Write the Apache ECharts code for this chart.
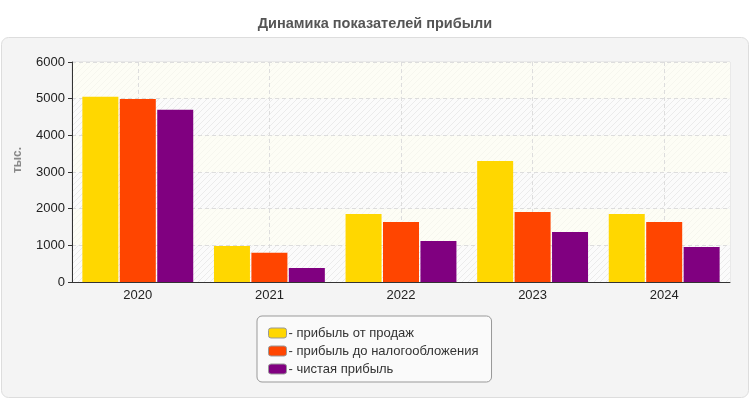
<!DOCTYPE html>
<html>
<head>
<meta charset="utf-8">
<script src="https://cdn.jsdelivr.net/npm/echarts@6/dist/echarts.min.js"></script>
<style>
  html, body { margin: 0; padding: 0; background: #fff; }
  #main { width: 750px; height: 400px; }
</style>
</head>
<body>
<div id="main"></div>
<script>
var years = ['2020', '2021', '2022', '2023', '2024'];
var salesProfit = [5050, 980, 1855, 3300, 1855];
var preTaxProfit = [4990, 800, 1636, 1910, 1636];
var netProfit = [4700, 380, 1118, 1364, 955];
var seriesNames = ['прибыль от продаж', 'прибыль до налогообложения', 'чистая прибыль'];
var yTicks = [0, 1000, 2000, 3000, 4000, 5000, 6000];

// striped fill for the plot bands
function makeStripes(bg, line) {
  var c = document.createElement('canvas');
  c.width = 6; c.height = 6;
  var ctx = c.getContext('2d');
  ctx.fillStyle = bg;
  ctx.fillRect(0, 0, 6, 6);
  ctx.strokeStyle = line;
  ctx.lineWidth = 1;
  ctx.beginPath();
  ctx.moveTo(0, 6); ctx.lineTo(6, 0);
  ctx.moveTo(-3, 3); ctx.lineTo(3, -3);
  ctx.moveTo(3, 9); ctx.lineTo(9, 3);
  ctx.stroke();
  return { image: c, repeat: 'repeat' };
}
var hatched = makeStripes('#fbfbfb', '#ebebeb');
var cream = makeStripes('#fdfdf5', '#f6f6ee');

var chart = echarts.init(document.getElementById('main'));

chart.setOption({
  animation: false,
  textStyle: { fontFamily: 'Arial, "Liberation Sans", sans-serif' },
  title: {
    text: 'Динамика показателей прибыли',
    left: 'center',
    top: 11,
    textStyle: { fontSize: 14.5, fontWeight: 'bold', color: '#555' }
  },
  graphic: [{
    type: 'rect',
    z: -10,
    shape: { x: 1.5, y: 37.5, width: 747, height: 360, r: 7 },
    style: { fill: '#f4f4f4', stroke: '#dddddd', lineWidth: 1 }
  }],
  legend: {
    orient: 'vertical',
    left: 257,
    top: 316,
    padding: [10, 13, 6, 11],
    itemGap: 4,
    itemWidth: 18,
    itemHeight: 10,
    backgroundColor: '#fafafa',
    borderColor: '#999',
    borderWidth: 1,
    borderRadius: 5,
    icon: 'roundRect',
    itemStyle: { borderColor: '#999', borderWidth: 1 },
    formatter: function (name) { return '- ' + name; },
    textStyle: { fontSize: 13, lineHeight: 14, color: '#333', padding: [0, 0, 0, -3] },
    data: seriesNames
  },
  grid: {
    left: 72,
    right: 20,
    top: 62,
    bottom: 118,
    show: true,
    borderColor: '#dddddd',
    borderWidth: 1,
    backgroundColor: 'transparent'
  },
  xAxis: {
    type: 'category',
    data: years,
    axisLine: { lineStyle: { color: '#333', width: 1 } },
    axisTick: { alignWithLabel: true, length: 4, lineStyle: { color: '#333' } },
    axisLabel: { fontSize: 13, color: '#222', margin: 7 },
    splitLine: { show: true, alignWithLabel: true, lineStyle: { color: '#dddddd', type: [4, 3] } }
  },
  yAxis: {
    type: 'value',
    min: yTicks[0],
    max: yTicks[yTicks.length - 1],
    interval: 1000,
    name: 'тыс.',
    nameLocation: 'middle',
    nameGap: 48,
    nameRotate: 90,
    nameTextStyle: { fontSize: 12, fontWeight: 'bold', color: '#888', padding: [0, 0, 0, 24] },
    axisLine: { show: true, lineStyle: { color: '#333', width: 1 } },
    axisTick: { show: true, length: 4, lineStyle: { color: '#333' } },
    axisLabel: { fontSize: 13, color: '#222', margin: 7, formatter: function (v) { return String(v); } },
    splitLine: { show: true, lineStyle: { color: '#dddddd', type: [4, 3] } },
    splitArea: { show: true, areaStyle: { color: [hatched, cream] } }
  },
  series: [{
    name: seriesNames[0],
    type: 'bar',
    data: salesProfit,
    barWidth: 36,
    barGap: '4%',
    itemStyle: { color: '#FFD700' }
  }, {
    name: seriesNames[1],
    type: 'bar',
    data: preTaxProfit,
    barWidth: 36,
    barGap: '4%',
    itemStyle: { color: '#FF4500' }
  }, {
    name: seriesNames[2],
    type: 'bar',
    data: netProfit,
    barWidth: 36,
    barGap: '4%',
    itemStyle: { color: '#800080' }
  }]
});
</script>
</body>
</html>
